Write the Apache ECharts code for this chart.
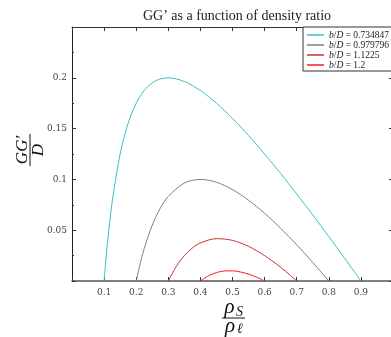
<!DOCTYPE html>
<html><head><meta charset="utf-8">
<script src="https://cdn.jsdelivr.net/npm/echarts@6/dist/echarts.min.js"></script>
<style>html,body{margin:0;padding:0;background:#fff}#c{width:391px;height:337px}</style>
</head><body><div id="c"></div>
<script>
const seriesNames = ['b/D = 0.734847', 'b/D = 0.979796', 'b/D = 1.1225', 'b/D = 1.2'];
const seriesColors = ['#3fbfbf', '#7f7f7f', '#c03535', '#ff1a1a'];
const xTicks = [0.1,0.2,0.3,0.4,0.5,0.6,0.7,0.8,0.9];
const yTicks = [0.05,0.1,0.15,0.2];

const cyanX = [0.1,0.105,0.11,0.125,0.15,0.175,0.2,0.225,0.25,0.275,0.3,0.35,0.4,0.45,0.5,0.55,0.6,0.65,0.7,0.75,0.8,0.85,0.9];
const cyanY = [0,0.0189,0.0359,0.0775,0.125,0.1554,0.175,0.1875,0.195,0.1989,0.2,0.1964,0.1875,0.175,0.16,0.1432,0.125,0.1058,0.0857,0.065,0.0438,0.0221,0];
const grayX = [0.2,0.21,0.225,0.25,0.275,0.3,0.35,0.4,0.45,0.5,0.55,0.6,0.65,0.7,0.75,0.8];
const grayY = [0,0.014,0.0319,0.055,0.0716,0.0833,0.0964,0.1,0.0972,0.09,0.0795,0.0667,0.0519,0.0357,0.0183,0];
const darkRedX = [0.3,0.325,0.35,0.375,0.4,0.45,0.5,0.55,0.6,0.65,0.7];
const darkRedY = [0,0.0144,0.025,0.0325,0.0375,0.0417,0.04,0.0341,0.025,0.0135,0];
const redX = [0.4,0.425,0.45,0.475,0.5,0.525,0.55,0.575,0.6];
const redY = [0,0.0051,0.0083,0.0099,0.01,0.0089,0.0068,0.0038,0];

const xs = [cyanX, grayX, darkRedX, redX];
const ys = [cyanY, grayY, darkRedY, redY];
const SERIF = '"Liberation Serif","DejaVu Serif",serif';
const DSERIF = '"DejaVu Serif",serif';

const chart = echarts.init(document.getElementById('c'));
const fmt = (v) => String(+v.toFixed(3));
const tick = {show: true, inside: true, length: 4, lineStyle: {color: '#333', width: 1}};
const xBase = {type: 'value', min: 0, max: 1, interval: 0.1, splitLine: {show: false}, axisTick: tick};
const yBase = {type: 'value', min: 0, max: 0.25, interval: 0.05, splitLine: {show: false}, axisTick: tick};

chart.setOption({
  animation: false,
  title: {
    text: 'GG’ as a function of density ratio', left: 232, top: 4, textAlign: 'center',
    textStyle: {fontFamily: SERIF, fontSize: 14, fontWeight: 'normal', color: '#222'}
  },
  grid: {left: 72, top: 27, width: 321, height: 254, containLabel: false, outerBoundsMode: 'none'},
  legend: {
    orient: 'vertical', left: 303, top: 27, itemWidth: 17, itemHeight: 1.5, itemGap: 0,
    icon: 'rect', z: 10,
    padding: [3, 3, 1, 4], borderColor: '#333', borderWidth: 1, backgroundColor: '#fff',
    data: seriesNames,
    formatter: (n) => '{i|b}/{i|D} = ' + n.split('= ')[1],
    textStyle: {fontFamily: SERIF, fontSize: 9.5, lineHeight: 9, color: '#222',
      rich: {i: {fontFamily: SERIF, fontStyle: 'italic', fontSize: 9.5, lineHeight: 9, color: '#222'}}}
  },
  xAxis: [
    Object.assign({}, xBase, {
      position: 'bottom',
      axisLine: {show: true, onZero: false, lineStyle: {color: '#555', width: 1.5}},
      axisLabel: {margin: 7, fontFamily: DSERIF, fontSize: 9, color: '#444',
        formatter: (v) => xTicks.some(t => Math.abs(t - v) < 1e-9) ? fmt(v) : ''}
    }),
    Object.assign({}, xBase, {
      position: 'top',
      axisLine: {show: true, onZero: false, lineStyle: {color: '#333', width: 1}}, axisLabel: {show: false}
    })
  ],
  yAxis: [
    Object.assign({}, yBase, {
      position: 'left',
      axisLine: {show: true, onZero: false, lineStyle: {color: '#222', width: 1}},
      minorTick: {show: true, splitNumber: 2, length: 2, lineStyle: {color: '#333'}},
      axisLabel: {margin: 5, fontFamily: DSERIF, fontSize: 9, color: '#444',
        formatter: (v) => yTicks.some(t => Math.abs(t - v) < 1e-9) ? fmt(v) : ''}
    }),
    Object.assign({}, yBase, {
      position: 'right',
      axisLine: {show: true, onZero: false, lineStyle: {color: '#222'}}, axisLabel: {show: false}
    })
  ],
  series: seriesNames.map((n, i) => ({
    name: n, type: 'line', symbol: 'none', smooth: 0.3, xAxisIndex: 0, yAxisIndex: 0,
    data: xs[i].map((x, j) => [x, ys[i][j]]),
    lineStyle: {color: seriesColors[i], width: 1}, itemStyle: {color: seriesColors[i]}
  })),
  graphic: [
    {type: 'group', x: 30, y: 150, rotation: Math.PI / 2, children: [
      {type: 'text', x: 0, y: 1, style: {text: 'GG′', font: 'italic 17px ' + SERIF, fill: '#111', align: 'center', verticalAlign: 'bottom'}},
      {type: 'line', shape: {x1: -16, y1: 0, x2: 16, y2: 0}, style: {stroke: '#111', lineWidth: 1}},
      {type: 'text', x: 0, y: 0, style: {text: 'D', font: 'italic 17px ' + SERIF, fill: '#111', align: 'center', verticalAlign: 'top'}}
    ]},
    {type: 'text', x: 229.5, y: 318, style: {text: 'ρ', font: 'italic 21px ' + SERIF, fill: '#111', align: 'center', verticalAlign: 'bottom'}},
    {type: 'text', x: 236, y: 319, style: {text: 'S', font: 'italic 14px ' + SERIF, fill: '#111', align: 'left', verticalAlign: 'bottom'}},
    {type: 'line', shape: {x1: 222, y1: 318, x2: 245, y2: 318}, style: {stroke: '#111', lineWidth: 1}},
    {type: 'text', x: 230, y: 337, style: {text: 'ρ', font: 'italic 21px ' + SERIF, fill: '#111', align: 'center', verticalAlign: 'bottom'}},
    {type: 'text', x: 237, y: 336, style: {text: 'ℓ', font: 'italic 14px ' + SERIF, fill: '#111', align: 'left', verticalAlign: 'bottom'}}
  ]
});
</script></body></html>
